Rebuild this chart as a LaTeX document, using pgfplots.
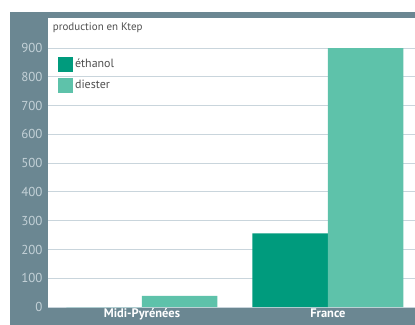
\documentclass[border=0pt]{standalone}
\usepackage{pgfplots}
\pgfplotsset{compat=1.18}
\usepackage{fontspec}
\setmainfont{PT Sans}
\definecolor{frame}{HTML}{6B8792}
\definecolor{ticklab}{HTML}{C3D1D7}
\definecolor{gridc}{HTML}{C9D5DC}
\definecolor{eth}{HTML}{009B7D}
\definecolor{die}{HTML}{5EC2AA}
\definecolor{txt}{HTML}{505050}
\begin{document}
\begin{tikzpicture}[x=1bp,y=1bp]
\path[use as bounding box] (0,0) rectangle (415,325);
\fill[white] (0,0) rectangle (415,325);
\fill[frame] (10,0) rectangle (415,313);
\begin{axis}[
  at={(48bp,18bp)}, anchor=south west,
  scale only axis, width=367bp, height=289bp,
  axis background/.style={fill=white},
  ybar=0pt, bar width=0.406,
  xmin=-0.505, xmax=1.468,
  ymin=0, ymax=1005,
  xtick={0,1}, xticklabels={Midi-Pyrénées, France},
  ytick={0,100,...,900},
  ymajorgrids, grid style={gridc, line width=1bp},
  axis line style={draw=none},
  major tick length=0pt,
  /pgf/number format/assume math mode=true,
  yticklabel style={font=\fontsize{13}{14}\selectfont, text=ticklab, xshift=-2bp},
  xticklabel style={font=\bfseries\fontsize{12.5}{14}\selectfont, text=white, yshift=2bp},
  legend style={draw=none, fill=none, at={(rel axis cs:0.027,0.866)}, anchor=north west,
    inner sep=0pt, row sep=6bp, font=\fontsize{12}{13}\selectfont, text=txt,
    /tikz/every even column/.append style={column sep=0bp}},
  legend cell align=left,
  legend image code/.code={\fill[#1] (0bp,-7.5bp) rectangle (15bp,7.5bp);},
  clip=false,
]
\addplot[fill=eth, draw=none] coordinates {(0,0) (1,256)};
\addplot[fill=die, draw=none] coordinates {(0,39) (1,900)};
\legend{éthanol, diester}
\node[anchor=west, text=txt, font=\fontsize{11}{12}\selectfont, inner sep=0pt] at (rel axis cs:0.013,0.965) {production en Ktep};
\end{axis}
\end{tikzpicture}
\end{document}
